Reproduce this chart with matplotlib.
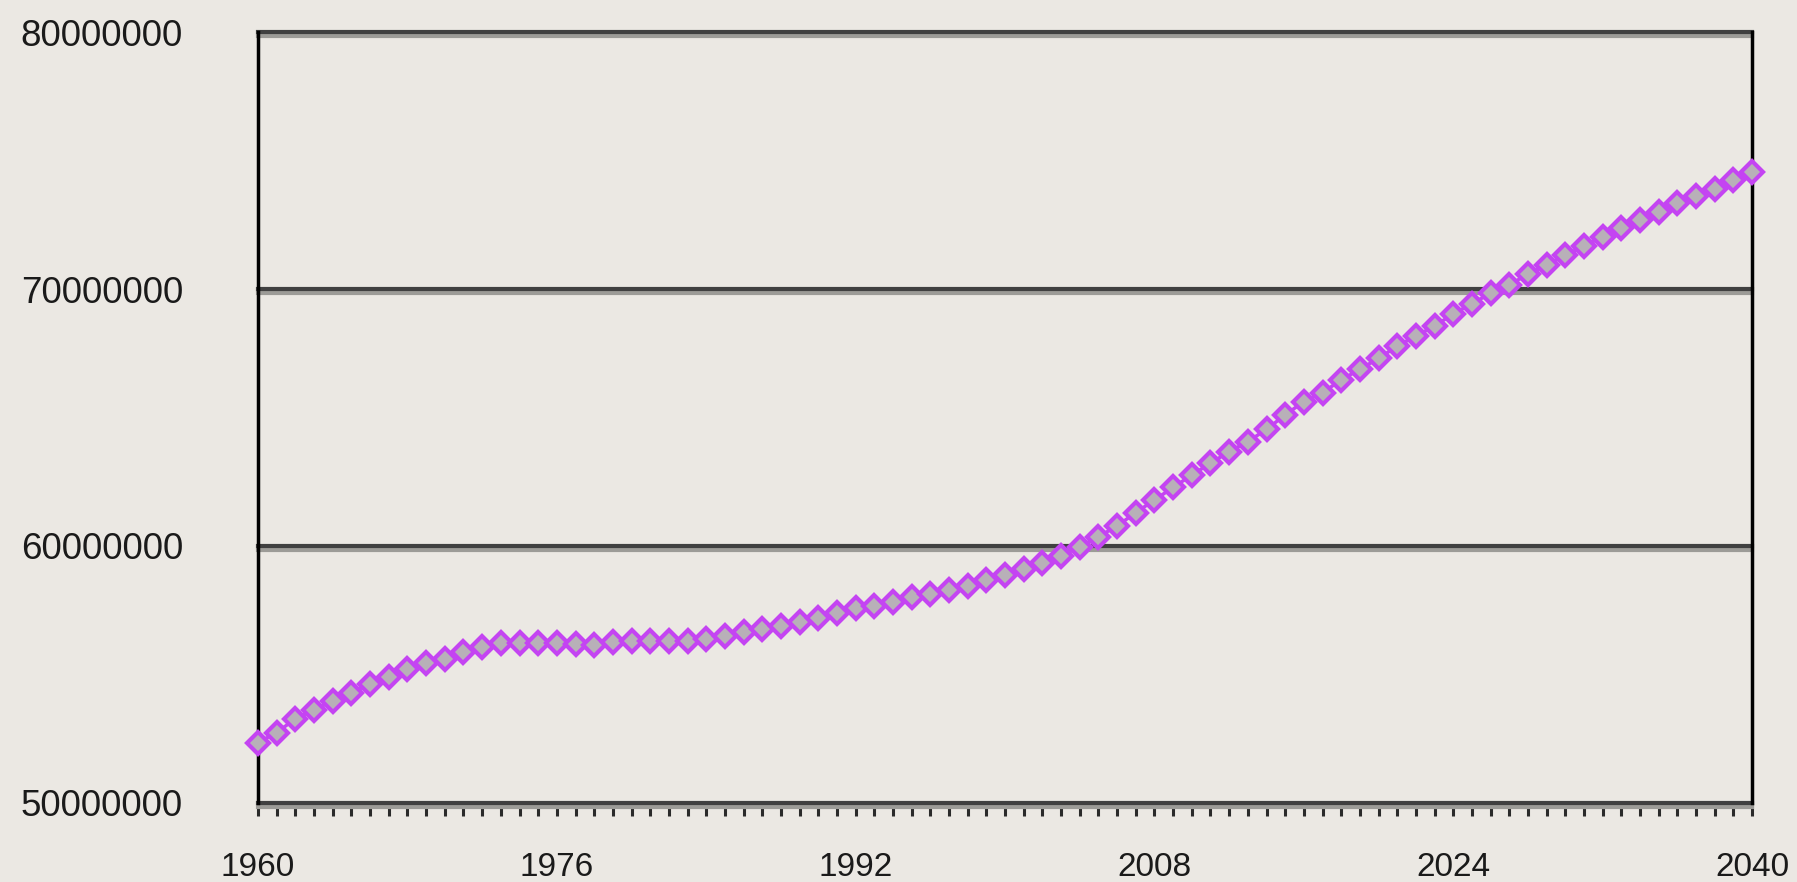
import numpy as np
import matplotlib
matplotlib.use('Agg')
import matplotlib.pyplot as plt
import matplotlib.patheffects as pe

# population (millions)
years = list(range(1960, 2041))
population_m = [
    52.35, 52.74, 53.28, 53.62, 53.98, 54.29, 54.63, 54.92, 55.20, 55.44,
    55.60, 55.89, 56.08, 56.21, 56.21, 56.21, 56.21, 56.19, 56.16, 56.27,
    56.30, 56.32, 56.30, 56.30, 56.39, 56.48, 56.65, 56.78, 56.87, 57.04,
    57.21, 57.39, 57.57, 57.66, 57.83, 58.00, 58.15, 58.29, 58.44, 58.68,
    58.87, 59.09, 59.32, 59.61, 59.97, 60.36, 60.78, 61.30, 61.79, 62.28,
    62.76, 63.22, 63.67, 64.06, 64.54, 65.10, 65.62, 65.97, 66.46, 66.88,
    67.30, 67.78, 68.17, 68.56, 69.03, 69.43, 69.83, 70.16, 70.58, 70.93,
    71.32, 71.67, 72.04, 72.36, 72.68, 73.01, 73.33, 73.62, 73.91, 74.26,
    74.56,
]
population = [v * 1e6 for v in population_m]

y_ticks = [50000000, 60000000, 70000000, 80000000]
x_labels = [1960, 1976, 1992, 2008, 2024, 2040]

bg = '#ebe8e3'
fig = plt.figure(figsize=(17.97, 8.82), dpi=100, facecolor=bg)
ax = fig.add_axes([0.1436, 0.0896, 0.9750 - 0.1436, 0.9637 - 0.0896])
ax.set_facecolor(bg)

# dark gridlines with a grey shadow underneath
shadow = [pe.SimpleLineShadow(offset=(0, -3), shadow_color='#9c9b97', alpha=1, rho=1), pe.Normal()]
for v in y_ticks:
    ax.axhline(v, color='#404040', lw=3, zorder=2, clip_on=False, path_effects=shadow)

ax.axvline(2040, color='black', lw=2.5, zorder=3, clip_on=False)

ax.plot(years, population, color='#c444f2', lw=2.5, marker='D', ms=11,
        mfc='#b8b0b8', mec='#c444f2', mew=3, zorder=4, clip_on=False)

ax.set_xlim(1960, 2040)
ax.set_ylim(50000000, 80000000)

for s in ['top', 'right', 'bottom']:
    ax.spines[s].set_visible(False)
ax.spines['left'].set_color('black')
ax.spines['left'].set_linewidth(2.5)
ax.spines['left'].set_zorder(3)

ax.set_yticks(y_ticks)
ax.set_yticklabels([str(v) for v in y_ticks])
ax.set_xticks(x_labels)
ax.set_xticklabels([str(v) for v in x_labels])
ax.set_xticks(years, minor=True)

ax.tick_params(axis='y', length=0, pad=54, labelsize=26.5, labelcolor='#1a1a1a')
ax.tick_params(axis='x', which='both', direction='out', length=9, width=2.2,
               color='#2a2a2a', labelsize=24, labelcolor='#1a1a1a')
ax.tick_params(axis='x', which='major', pad=26)

for lbl in ax.get_xticklabels() + ax.get_yticklabels():
    lbl.set_family('Liberation Sans')

fig.savefig('out.png', dpi=100, facecolor=bg)
